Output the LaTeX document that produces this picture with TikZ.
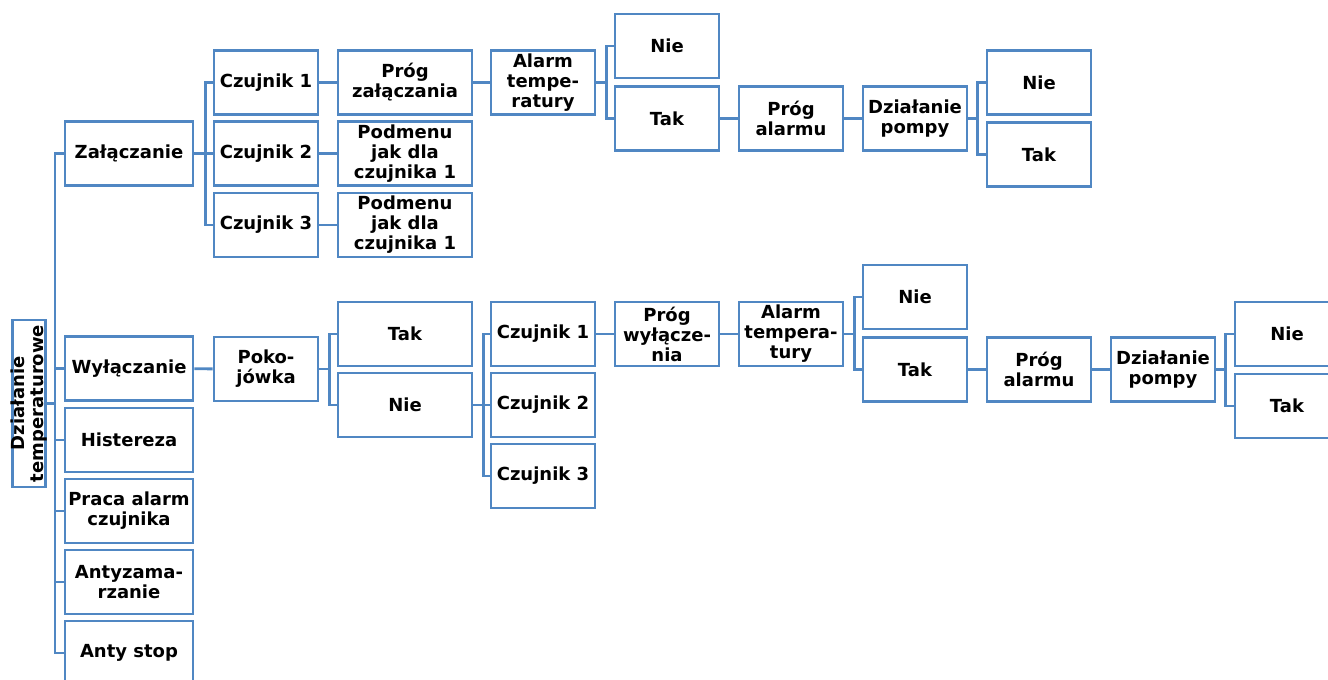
\documentclass[tikz,border=0pt]{standalone}
\usepackage{fontspec}
\setmainfont{DejaVu Sans}
\definecolor{boxblue}{RGB}{80,135,195}
\tikzset{
  box/.style={draw=boxblue,line width=2.2pt,align=center,inner sep=0pt,
    minimum width=78pt,minimum height=48pt,
    font=\fontsize{13.5}{15}\selectfont\bfseries},
  wide/.style={box,minimum width=96pt},
  wider/.style={box,minimum width=100.5pt},
  link/.style={draw=boxblue,line width=2.2pt}
}

\begin{document}
\begin{tikzpicture}[x=0.75pt,y=-0.75pt]
\clip (0,0) rectangle (1328,680);

% root
\node[draw=boxblue,line width=2.2pt,rotate=90,minimum width=125.25pt,minimum height=24.75pt,inner sep=0pt] (root) at (29,403.5) {};
\node[rotate=90,align=center,inner sep=0pt,font=\fontsize{13.5}{14}\selectfont\bfseries] (roottext) at (29,403.5) {Działanie\\temperaturowe};
\coordinate (trunk) at (55,403.5);

% first level
\node[wide] (zal) at (129,153.5) {Załączanie};
\node[wide] (wyl) at (129,368.5) {Wyłączanie};
\node[wide] (his) at (129,440) {Histereza};
\node[wide] (pra) at (129,511) {Praca alarm\\czujnika};
\node[wide] (anz) at (129,582) {Antyzama-\\rzanie};
\node[wide] (ast) at (129,653) {Anty stop};

% switching on
\node[box] (c1) at (266,82.5) {Czujnik 1};
\node[box] (c2) at (266,153.5) {Czujnik 2};
\node[box] (c3) at (266,225) {Czujnik 3};
\node[wider] (prz) at (405,82.5) {Próg\\załączania};
\node[wider] (pod2) at (405,153.5) {Podmenu\\jak dla\\czujnika 1};
\node[wider] (pod3) at (405,225) {Podmenu\\jak dla\\czujnika 1};
\node[box] (alt1) at (543,82.5) {Alarm\\tempe-\\ratury};
\node[box] (nie1) at (667,46) {Nie};
\node[box] (tak1) at (667,118.5) {Tak};
\node[box] (pa1) at (791,118.5) {Próg\\alarmu};
\node[box] (dp1) at (915,118.5) {Działanie\\pompy};
\node[box] (nie2) at (1039,82.5) {Nie};
\node[box] (tak2) at (1039,154.5) {Tak};

% switching off
\node[box] (pok) at (266,369) {Poko-\\jówka};
\node[wider] (takp) at (405,334) {Tak};
\node[wider] (niep) at (405,405) {Nie};
\node[box] (cz1) at (543,334) {Czujnik 1};
\node[box] (cz2) at (543,405) {Czujnik 2};
\node[box] (cz3) at (543,476) {Czujnik 3};
\node[box] (prw) at (667,334) {Próg\\wyłącze-\\nia};
\node[box] (alt2) at (791,334) {Alarm\\tempera-\\tury};
\node[box] (nie3) at (915,297) {Nie};
\node[box] (tak3) at (915,369.5) {Tak};
\node[box] (pa2) at (1039,369.5) {Próg\\alarmu};
\node[box] (dp2) at (1163,369.5) {Działanie\\pompy};
\node[box] (nie4) at (1287,334) {Nie};
\node[box] (tak4) at (1287,406) {Tak};

% connectors
\draw[link] (root) -- (trunk);
\foreach \n in {zal,wyl,his,pra,anz,ast}
  \draw[link] (trunk) |- (\n.west);
\foreach \n in {c1,c2,c3}
  \draw[link] (zal.east) -- ++(11,0) |- (\n.west);
\draw[link] (c1) -- (prz);
\draw[link] (c2) -- (pod2);
\draw[link] (c3) -- (pod3);
\draw[link] (prz) -- (alt1);
\foreach \n in {nie1,tak1}
  \draw[link] (alt1.east) -- ++(10,0) |- (\n.west);
\draw[link] (tak1) -- (pa1);
\draw[link] (pa1) -- (dp1);
\foreach \n in {nie2,tak2}
  \draw[link] (dp1.east) -- ++(9,0) |- (\n.west);

\draw[link] (wyl) -- (pok);
\foreach \n in {takp,niep}
  \draw[link] (pok.east) -- ++(10,0) |- (\n.west);
\foreach \n in {cz1,cz2,cz3}
  \draw[link] (niep.east) -- ++(10,0) |- (\n.west);
\draw[link] (cz1) -- (prw);
\draw[link] (prw) -- (alt2);
\foreach \n in {nie3,tak3}
  \draw[link] (alt2.east) -- ++(10,0) |- (\n.west);
\draw[link] (tak3) -- (pa2);
\draw[link] (pa2) -- (dp2);
\foreach \n in {nie4,tak4}
  \draw[link] (dp2.east) -- ++(9,0) |- (\n.west);
\end{tikzpicture}
\end{document}
